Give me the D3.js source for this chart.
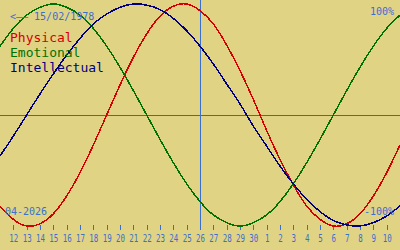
<!DOCTYPE html>
<html>
<head>
<meta charset="utf-8">
<script src="https://cdn.jsdelivr.net/npm/d3@7"></script>
<style>
    body { margin: 0; background: #e1d384; }
    svg { display: block; }
    text { font-family: "DejaVu Sans Mono", monospace; }
</style>
</head>
<body>
<script>
const width = 400;
const height = 250;

// day labels, Apr 11 .. May 11 (first and last fall outside the picture)
const dayLabels = [11, 12, 13, 14, 15, 16, 17, 18, 19, 20, 21, 22, 23, 24, 25, 26,
    27, 28, 29, 30, 1, 2, 3, 4, 5, 6, 7, 8, 9, 10, 11];

// values read per day, -1 .. 1
const physical = [-0.82, -0.94, -1.0, -0.98, -0.89, -0.73, -0.52, -0.27, 0.0, 0.27,
    0.52, 0.73, 0.89, 0.98, 1.0, 0.94, 0.82, 0.63, 0.4, 0.14, -0.14, -0.4, -0.63,
    -0.82, -0.94, -1.0, -0.98, -0.89, -0.73, -0.52, -0.27];
const emotional = [0.62, 0.78, 0.9, 0.97, 1.0, 0.97, 0.9, 0.78, 0.62, 0.43, 0.22,
    0.0, -0.22, -0.43, -0.62, -0.78, -0.9, -0.97, -1.0, -0.97, -0.9, -0.78, -0.62,
    -0.43, -0.22, 0.0, 0.22, 0.43, 0.62, 0.78, 0.9];
const intellectual = [-0.37, -0.19, 0.0, 0.19, 0.37, 0.54, 0.69, 0.82, 0.91, 0.97,
    1.0, 0.99, 0.95, 0.87, 0.76, 0.62, 0.46, 0.28, 0.1, -0.1, -0.28, -0.46, -0.62,
    -0.76, -0.87, -0.95, -0.99, -1.0, -0.97, -0.91, -0.82];

const series = [
    { name: "Physical", values: physical, colour: "#d40000" },
    { name: "Emotional", values: emotional, colour: "#007000" },
    { name: "Intellectual", values: intellectual, colour: "#000080" },
];

const todayIndex = 15; // 26
const birthText = "<\u2014\u2014 15/02/1978";
const monthText = "04-2026";

const svg = d3.select("body").append("svg")
    .attr("width", width)
    .attr("height", height);

const x = d3.scaleLinear().domain([0, 30]).range([0, width]);
const y = d3.scaleLinear().domain([-1, 1]).range([226, 4]);

const blue = "#3a6fd0";

// centre line
svg.append("line")
    .attr("x1", 0).attr("x2", width)
    .attr("y1", Math.round(y(0)) + 0.5).attr("y2", Math.round(y(0)) + 0.5)
    .attr("stroke", "#44679e");

// axis
const axis = d3.axisBottom(x)
    .tickValues(d3.range(1, dayLabels.length - 1))
    .tickFormat((i) => dayLabels[i])
    .tickSize(5)
    .tickPadding(4);

const ax = svg.append("g")
    .attr("transform", "translate(0,225)")
    .call(axis);
ax.select(".domain").remove();
ax.selectAll(".tick line").attr("stroke", blue).attr("shape-rendering", "crispEdges");
ax.selectAll(".tick text")
    .attr("fill", blue)
    .attr("transform", "scale(0.68,1)")
    .style("font-size", "11px")
    .style("font-family", "'DejaVu Sans Mono', monospace");

// today line
svg.append("line")
    .attr("x1", Math.round(x(todayIndex)) + 0.5).attr("x2", Math.round(x(todayIndex)) + 0.5)
    .attr("y1", 0).attr("y2", 230)
    .attr("stroke", blue);

const line = d3.line()
    .x((d, i) => x(i))
    .y((d) => y(d))
    .curve(d3.curveNatural);

svg.selectAll(".curve")
    .data(series)
    .enter()
    .append("path")
    .attr("class", "curve")
    .attr("d", (d) => line(d.values))
    .attr("fill", "none")
    .attr("stroke", (d) => d.colour)
    .attr("stroke-width", 1.5)
    .attr("shape-rendering", "crispEdges");

// legend
svg.selectAll(".legend")
    .data(series)
    .enter()
    .append("text")
    .attr("class", "legend")
    .attr("x", 10)
    .attr("y", (d, i) => 42 + i * 15)
    .attr("fill", (d) => d.colour)
    .style("font-size", "13px")
    .text((d) => d.name);

const labels = [
    { t: birthText, x: 10, y: 20, anchor: "start" },
    { t: "100%", x: 394, y: 15, anchor: "end" },
    { t: "-100%", x: 394, y: 215, anchor: "end" },
    { t: monthText, x: 5, y: 215, anchor: "start" },
];
svg.selectAll(".label")
    .data(labels)
    .enter()
    .append("text")
    .attr("class", "label")
    .attr("x", (d) => d.x)
    .attr("y", (d) => d.y)
    .attr("text-anchor", (d) => d.anchor)
    .attr("fill", blue)
    .style("font-size", "10px")
    .text((d) => d.t);
</script>
</body>
</html>
